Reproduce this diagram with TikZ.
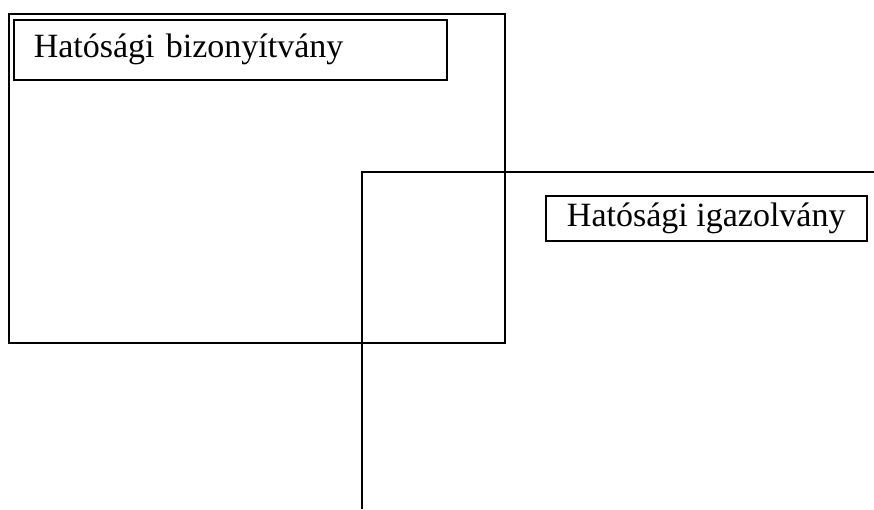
\documentclass[tikz,border=0pt]{standalone}
\usepackage{fontspec}
\setmainfont{Liberation Serif}
\usetikzlibrary{positioning}

\begin{document}
\begin{tikzpicture}[x=1pt,y=-1pt,
        frame/.style={line width=1.5pt},
        labelbox/.style={draw,line width=1.5pt,font=\fontsize{34}{39}\selectfont,
            inner sep=0pt,minimum height=60pt}]
        \def\W{874}                                 % picture width
        \def\H{509}                                 % picture height

        % Fix the page to the size of the reference
        \useasboundingbox (0,0) rectangle (\W,\H);

        % The large frame on the left
        \coordinate (bigNW) at (9,14);
        \coordinate (bigSE) at (505,343);
        \draw[frame] (bigNW) rectangle (bigSE);

        % The second frame, cut off by the right and bottom edges
        \coordinate (smallNW) at (362,172);
        \coordinate (smallNE) at (\W,172);
        \coordinate (smallSW) at (362,\H);
        \draw[frame] (smallNE) -- (smallNW) -- (smallSW);

        % Label boxes
        \node[labelbox,anchor=north west,minimum width=433pt,inner xsep=20pt,
            text width=393pt,align=left]
            (bizonyitvany) at (13,19) {Hatósági bizonyítvány};
        \node[labelbox,anchor=north west,minimum width=321pt,minimum height=45pt]
            (igazolvany) at (545,195) {Hatósági igazolvány};
\end{tikzpicture}
\end{document}
